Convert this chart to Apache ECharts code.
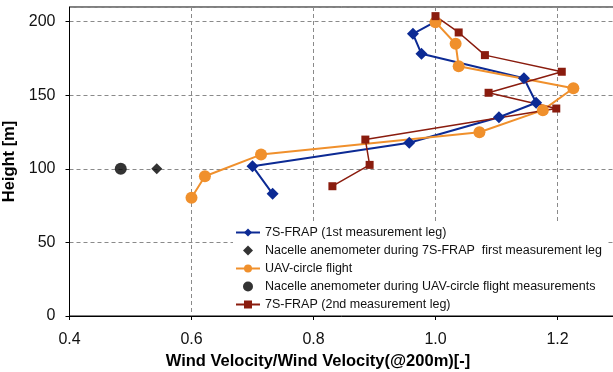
<!DOCTYPE html>
<html>
<head>
<meta charset="utf-8">
<script src="https://cdn.jsdelivr.net/npm/echarts@6/dist/echarts.min.js"></script>
<style>
  html, body { margin: 0; padding: 0; background: #fff; }
  #chart { width: 613px; height: 372px; }
</style>
</head>
<body>
<div id="chart"></div>
<script>
// 7S-FRAP, 1st measurement leg
const frap1Vel = [1.0, 0.963, 0.977, 1.145, 1.165, 1.104, 0.957, 0.700, 0.733];
const frap1Height = [200, 191.8, 178.2, 161.6, 144.9, 135.1, 117.7, 101.8, 83.0];

// nacelle anemometer during 1st leg
const nacelle1Vel = [0.543];
const nacelle1Height = [100];

// UAV circle flight
const uavVel = [1.0, 1.033, 1.038, 1.226, 1.176, 1.072, 0.714, 0.622, 0.600];
const uavHeight = [199.7, 185.0, 169.8, 154.8, 139.9, 124.9, 109.7, 95.0, 80.3];

// nacelle anemometer during UAV flight
const nacelle2Vel = [0.484];
const nacelle2Height = [100];

// 7S-FRAP, 2nd measurement leg
const frap2Vel = [1.0, 1.038, 1.081, 1.207, 1.087, 1.198, 0.885, 0.892, 0.831];
const frap2Height = [203.8, 192.7, 177.3, 166.0, 151.7, 141.0, 119.9, 102.7, 88.2];

const seriesNames = [
  '7S-FRAP (1st measurement leg)',
  'Nacelle anemometer during 7S-FRAP  first measurement leg',
  'UAV-circle flight',
  'Nacelle anemometer during UAV-circle flight measurements',
  '7S-FRAP (2nd measurement leg)'
];

const pairs = (xs, ys) => xs.map((x, i) => [x, ys[i]]);

const font = '"Liberation Sans", Arial, sans-serif';
const diamondIcon = 'path://M0,-1L1,0L0,1L-1,0Z';

const option = {
  animation: false,
  grid: {
    left: 69.5,
    top: 7,
    bottom: 56,
    right: -66.5,
    outerBoundsMode: 'none',
    containLabel: false,
    show: true,
    borderColor: '#000',
    borderWidth: 1
  },
  xAxis: {
    type: 'value',
    min: 0.4,
    max: 1.4,
    interval: 0.2,
    name: 'Wind Velocity/Wind Velocity(@200m)[-]',
    nameLocation: 'middle',
    nameGap: 36,
    nameTextStyle: {
      fontFamily: font, fontSize: 16.5, fontWeight: 'bold', color: '#000',
      padding: [0, 113, 0, 0]
    },
    axisLine: { lineStyle: { color: '#000', width: 1 } },
    axisTick: { show: true, length: 4, lineStyle: { color: '#000' } },
    axisLabel: {
      fontFamily: font, fontSize: 16, color: '#111', margin: 16,
      formatter: v => v.toFixed(1)
    },
    splitLine: { lineStyle: { color: '#8a8a8a', type: [4, 3], width: 1 } }
  },
  yAxis: {
    type: 'value',
    min: 0,
    max: 210,
    interval: 50,
    name: 'Height [m]',
    nameLocation: 'middle',
    nameGap: 43,
    nameTextStyle: { fontFamily: font, fontSize: 16.5, fontWeight: 'bold', color: '#000' },
    axisLine: { show: true, lineStyle: { color: '#000', width: 1 } },
    axisTick: { show: true, length: 4, lineStyle: { color: '#000' } },
    axisLabel: { fontFamily: font, fontSize: 16, color: '#111', margin: 14, showMaxLabel: false },
    splitLine: { lineStyle: { color: '#8a8a8a', type: [4, 3], width: 1 } }
  },
  legend: {
    orient: 'vertical',
    left: 233,
    top: 223,
    padding: [3, 6, 3, 2],
    backgroundColor: '#fff',
    itemWidth: 24,
    itemHeight: 10,
    itemGap: 5,
    symbolKeepAspect: true,
    textStyle: { fontFamily: font, fontSize: 12.5, color: '#111' },
    data: [
      { name: seriesNames[0] },
      { name: seriesNames[1], icon: diamondIcon },
      { name: seriesNames[2] },
      { name: seriesNames[3] },
      { name: seriesNames[4] }
    ]
  },
  series: [
    {
      name: seriesNames[0],
      type: 'line',
      data: pairs(frap1Vel, frap1Height),
      symbol: 'diamond',
      symbolSize: 12,
      showSymbol: true,
      lineStyle: { color: '#0c2a94', width: 2 },
      itemStyle: { color: '#0c2a94' }
    },
    {
      name: seriesNames[1],
      type: 'scatter',
      data: pairs(nacelle1Vel, nacelle1Height),
      symbol: 'diamond',
      symbolSize: 11,
      itemStyle: { color: '#000' }
    },
    {
      name: seriesNames[2],
      type: 'line',
      z: 3,
      data: pairs(uavVel, uavHeight),
      symbol: 'circle',
      symbolSize: 12,
      showSymbol: true,
      lineStyle: { color: '#f0902c', width: 2 },
      itemStyle: { color: '#f0902c' }
    },
    {
      name: seriesNames[3],
      type: 'scatter',
      data: pairs(nacelle2Vel, nacelle2Height),
      symbol: 'circle',
      symbolSize: 12,
      itemStyle: { color: '#000' }
    },
    {
      name: seriesNames[4],
      type: 'line',
      data: pairs(frap2Vel, frap2Height),
      symbol: 'rect',
      symbolSize: 8,
      showSymbol: true,
      lineStyle: { color: '#8a1c0e', width: 1.5 },
      itemStyle: { color: '#8a1c0e' }
    }
  ]
};

const myChart = echarts.init(document.getElementById('chart'));
myChart.setOption(option);
</script>
</body>
</html>
